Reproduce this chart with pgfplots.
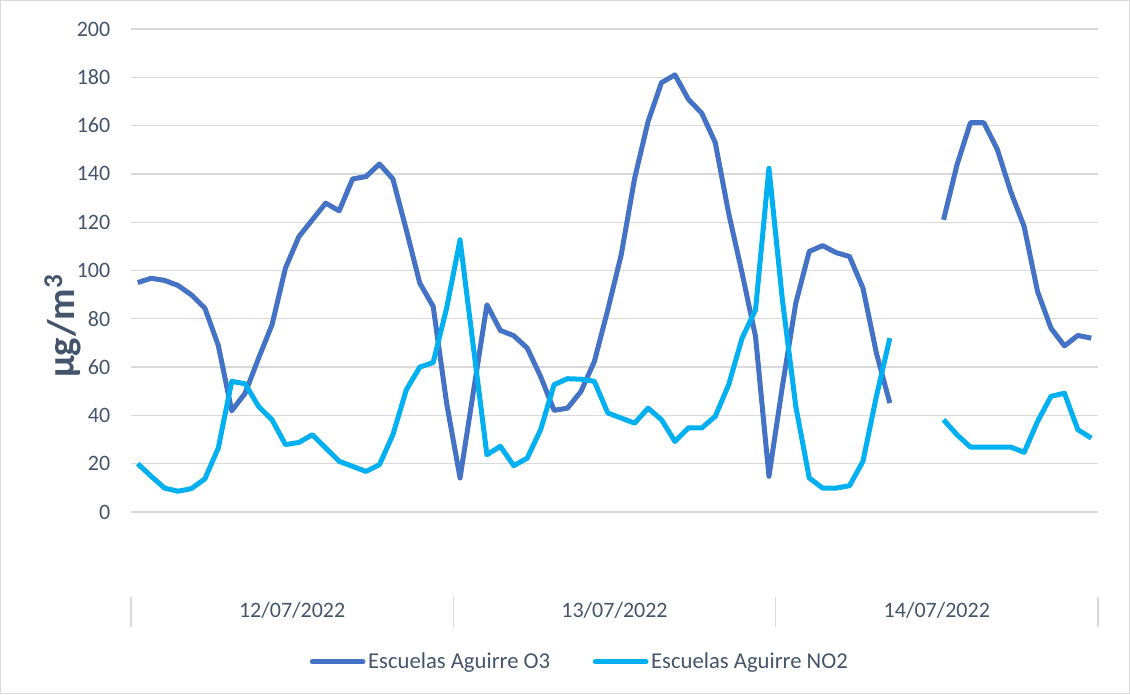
\documentclass[border=0pt]{standalone}
\usepackage{pgfplots}
\pgfplotsset{compat=1.18}
\usepackage{fontspec}
\setmainfont{Carlito}
\definecolor{othree}{HTML}{4472C4}
\definecolor{notwo}{HTML}{00B0F0}
\definecolor{gridc}{HTML}{D9D9D9}
\definecolor{txt}{HTML}{44546A}
\begin{document}
\begin{tikzpicture}[x=0.75pt,y=0.75pt]
\draw[gridc, line width=0.75pt] (0.5,0.5) rectangle (1129.5,693.5);
\begin{axis}[
  at={(98.25pt,136.5pt)}, anchor=south west,
  width=725.25pt, height=362.25pt, scale only axis,
  xmin=0, xmax=72, ymin=0, ymax=200,
  xtick=\empty,
  ytick={0,20,...,200},
  ymajorgrids, grid style={gridc, line width=1pt},
  axis line style={draw=none},
  major tick style={draw=none},
  /pgf/number format/assume math mode=true,
  yticklabel style={font=\fontsize{16.5}{19.8}\selectfont, text=txt, xshift=-12pt},
  ylabel={\textbf{µg/m\textsuperscript{3}}},
  ylabel style={at={(rel axis cs:-0.0708,0.385)}, anchor=center, rotate=0, font=\fontsize{29}{35}\selectfont, text=txt},
  clip=false,
  unbounded coords=jump,
  legend columns=2,
  legend style={draw=none, fill=none, at={(rel axis cs:0.4645,-0.31)}, anchor=center,
    font=\fontsize{17}{20}\selectfont, text=txt,
    /tikz/every even column/.append style={column sep=30pt},
    inner sep=0pt},
  legend image code/.code={\draw[#1, line width=3.75pt, line cap=round] (0pt,0pt) -- (38pt,0pt);},
]
\addplot[othree, line width=3.75pt, line join=round] coordinates {
(0.5,95.0) (1.5,96.8) (2.5,95.9) (3.5,93.8) (4.5,89.9) (5.5,84.4) (6.5,69.0) (7.5,41.9)
(8.5,49.2) (9.5,63.7) (10.5,77.5) (11.5,101.0) (12.5,114.0) (13.5,121.0) (14.5,127.9) (15.5,124.7)
(16.5,137.9) (17.5,138.9) (18.5,144.1) (19.5,137.9) (20.5,116.8) (21.5,94.8) (22.5,85.1) (23.5,45.1)
(24.5,14.1) (25.5,50.0) (26.5,85.8) (27.5,75.2) (28.5,73.0) (29.5,67.9) (30.5,56.1) (31.5,42.1)
(32.5,43.0) (33.5,49.9) (34.5,62.3) (35.5,83.7) (36.5,106.5) (37.5,138.2) (38.5,161.7) (39.5,177.8)
(40.5,181.0) (41.5,170.9) (42.5,165.1) (43.5,153.0) (44.5,123.7) (45.5,98.9) (46.5,72.7) (47.5,14.8)
(48.5,52.0) (49.5,86.5) (50.5,107.9) (51.5,110.3) (52.5,107.4) (53.5,105.8) (54.5,92.7) (55.5,65.8)
(56.5,45.1) (57.5,nan) (58.5,nan) (59.5,nan) (60.5,121.0) (61.5,143.7) (62.5,161.2) (63.5,161.2)
(64.5,150.2) (65.5,132.7) (66.5,118.2) (67.5,91.3) (68.5,76.1) (69.5,68.8) (70.5,73.1) (71.5,72.0)
};
\addlegendentry{Escuelas Aguirre O3}
\addplot[notwo, line width=3.75pt, line join=round] coordinates {
(0.5,20.0) (1.5,14.8) (2.5,9.9) (3.5,8.6) (4.5,9.7) (5.5,13.7) (6.5,26.5) (7.5,54.1)
(8.5,53.1) (9.5,43.7) (10.5,38.2) (11.5,27.9) (12.5,28.8) (13.5,32.0) (14.5,26.5) (15.5,21.0)
(16.5,18.9) (17.5,16.8) (18.5,19.6) (19.5,32.0) (20.5,50.6) (21.5,60.0) (22.5,61.9) (23.5,84.4)
(24.5,112.7) (25.5,68.0) (26.5,23.7) (27.5,27.2) (28.5,19.2) (29.5,22.3) (30.5,34.1) (31.5,52.7)
(32.5,55.2) (33.5,55.0) (34.5,54.1) (35.5,41.0) (36.5,38.9) (37.5,36.8) (38.5,43.0) (39.5,38.2)
(40.5,29.2) (41.5,34.8) (42.5,34.8) (43.5,39.6) (44.5,52.7) (45.5,72.0) (46.5,83.7) (47.5,142.3)
(48.5,87.9) (49.5,43.7) (50.5,14.1) (51.5,9.9) (52.5,9.9) (53.5,10.9) (54.5,21.0) (55.5,47.9)
(56.5,72.0) (57.5,nan) (58.5,nan) (59.5,nan) (60.5,38.2) (61.5,32.0) (62.5,26.9) (63.5,26.9)
(64.5,26.9) (65.5,26.9) (66.5,24.7) (67.5,37.5) (68.5,47.9) (69.5,49.2) (70.5,34.1) (71.5,30.6)
};
\addlegendentry{Escuelas Aguirre NO2}
\foreach \d in {0,24,48,72} {
  \edef\tmp{\noexpand\draw[gridc, line width=1pt] (axis cs:\d,-35) -- (axis cs:\d,-47.5);}
  \tmp
}
\node[text=txt, font=\fontsize{16.5}{19.8}\selectfont] at (axis cs:12,-40.8) {12/07/2022};
\node[text=txt, font=\fontsize{16.5}{19.8}\selectfont] at (axis cs:36,-40.8) {13/07/2022};
\node[text=txt, font=\fontsize{16.5}{19.8}\selectfont] at (axis cs:60,-40.8) {14/07/2022};
\end{axis}
\end{tikzpicture}
\end{document}
